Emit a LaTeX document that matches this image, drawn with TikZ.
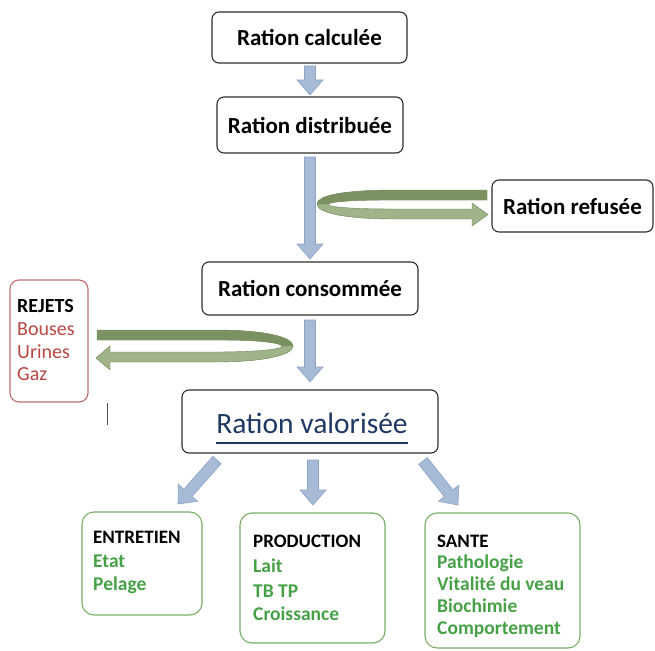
\documentclass[tikz,border=0pt]{standalone}
\usepackage{fontspec}
\setmainfont{Carlito}
\usetikzlibrary{calc}
\definecolor{boxline}{RGB}{45,45,45}
\definecolor{arrowblue}{RGB}{167,187,215}
\definecolor{arrowedge}{RGB}{140,162,198}
\definecolor{olivedark}{RGB}{122,145,98}
\definecolor{olivelight}{RGB}{160,180,138}
\definecolor{oliveedge}{RGB}{110,130,90}
\definecolor{greenline}{RGB}{120,175,100}
\definecolor{greentext}{RGB}{70,160,70}
\definecolor{redline}{RGB}{190,110,110}
\definecolor{redtext}{RGB}{185,70,65}
\definecolor{navyblue}{RGB}{31,56,100}
\newcommand\blockarrow[2]{%
  \path[fill=arrowblue, draw=arrowedge, line width=0.6pt]
    let \p1=(#1), \p2=(#2),
        \n1={atan2(\y2-\y1,\x2-\x1)},
        \n2={veclen(\x2-\x1,\y2-\y1)} in
    [shift={(\p1)}, rotate=\n1]
    (0pt,-5.5pt) -- ({\n2*1pt-15pt},-5.5pt) -- ({\n2*1pt-15pt},-13pt) -- ({\n2*1pt},0pt)
    -- ({\n2*1pt-15pt},13pt) -- ({\n2*1pt-15pt},5.5pt) -- (0pt,5.5pt) -- cycle;}
\begin{document}
\begin{tikzpicture}[x=1pt,y=-1pt,
  mainbox/.style={draw=boxline, line width=1.1pt, rounded corners=7pt, fill=white, inner sep=0pt,
    font=\fontsize{23}{27}\selectfont\bfseries},
  greenbox/.style={draw=greenline, line width=1.1pt, rounded corners=12pt, inner sep=0pt},
  redbox/.style={draw=redline, line width=1.1pt, rounded corners=9pt, inner sep=0pt},
  head/.style={anchor=base west, inner sep=0pt, font=\fontsize{19}{21}\selectfont\bfseries, text=black},
  gitem/.style={anchor=base west, inner sep=0pt, font=\fontsize{19.5}{21}\selectfont\bfseries, text=greentext},
  rhead/.style={anchor=base west, inner sep=0pt, font=\fontsize{20}{22}\selectfont\bfseries, text=black},
  ritem/.style={anchor=base west, inner sep=0pt, font=\fontsize{20}{22}\selectfont, text=redtext}]
\useasboundingbox (0,0) rectangle (655,650);

% main boxes
\node[mainbox, minimum width=195pt, minimum height=51pt] (calc) at (309.5,37.5) {Ration calculée};
\node[mainbox, minimum width=186pt, minimum height=56pt] (dist) at (310,125) {Ration distribuée};
\node[mainbox, minimum width=161pt, minimum height=52pt] (ref) at (572.5,206) {Ration refusée};
\node[mainbox, minimum width=216pt, minimum height=53pt] (cons) at (310,288.5) {Ration consommée};
\node[mainbox, minimum width=256pt, minimum height=63pt] (val) at (310,421.5) {};
\node[anchor=base, inner sep=0pt, font=\fontsize{29.5}{33}\selectfont, text=navyblue] (valt) at (312,433) {Ration valorisée};
\draw[navyblue, line width=1.6pt] ([yshift=-10pt]valt.base west) -- ([yshift=-10pt]valt.base east);

% rejets
\node[redbox, minimum width=78pt, minimum height=122pt] (rej) at (49,341) {};
\node[rhead] (rejt) at (17,312) {REJETS};
\node[ritem] (bou) at (17,335) {Bouses};
\node[ritem] (uri) at (17,358) {Urines};
\node[ritem] (gaz) at (17,380) {Gaz};

% green boxes
\node[greenbox, minimum width=120pt, minimum height=103pt] (ent) at (142,563.5) {};
\node[head] (entt) at (93,543) {ENTRETIEN};
\node[gitem] (etat) at (93,567) {Etat};
\node[gitem] (pel) at (93,590) {Pelage};

\node[greenbox, minimum width=145pt, minimum height=130pt] (prod) at (312.5,578) {};
\node[head] (prodt) at (253,547) {PRODUCTION};
\node[gitem] (lait) at (253,572) {Lait};
\node[gitem] (tbtp) at (253,597) {TB TP};
\node[gitem] (cro) at (253,620) {Croissance};

\node[greenbox, minimum width=155pt, minimum height=135pt] (sant) at (502.5,580.5) {};
\node[head] (santt) at (437,547) {SANTE};
\node[gitem] (path) at (437,568) {Pathologie};
\node[gitem] (vit) at (437,590) {Vitalité du veau};
\node[gitem] (bio) at (437,612) {Biochimie};
\node[gitem] (comp) at (437,634) {Comportement};

% blue block arrows
\coordinate (a1s) at (310,66);  \coordinate (a1e) at (310,95);
\coordinate (a2s) at (310,157); \coordinate (a2e) at (310,259);
\coordinate (a3s) at (310,320); \coordinate (a3e) at (310,382);
\coordinate (a4s) at (217,460); \coordinate (a4e) at (178,504);
\coordinate (a5s) at (313,460); \coordinate (a5e) at (313,505);
\coordinate (a6s) at (423,461); \coordinate (a6e) at (458,505);
\blockarrow{a1s}{a1e}
\blockarrow{a2s}{a2e}
\blockarrow{a3s}{a3e}
\blockarrow{a4s}{a4e}
\blockarrow{a5s}{a5e}
\blockarrow{a6s}{a6e}

% curved arrow to "Ration refusee"
\fill[olivelight, draw=oliveedge, line width=0.4pt]
  (487,190) -- (390,190) .. controls (340,190.5) and (317,196) .. (317,204)
  .. controls (317,213) and (345,219) .. (395,219) -- (472,219) -- (472,226) -- (488,214.5)
  -- (472,203) -- (472,209) -- (395,209) .. controls (352,209) and (328,207) .. (328,204.5)
  .. controls (328,202) and (350,200) .. (390,200) -- (487,200) -- cycle;
\fill[olivedark]
  (487,190) -- (390,190) .. controls (340,190.5) and (317,196) .. (317,204)
  -- (328,204.5) .. controls (328,202) and (350,200) .. (390,200) -- (487,200) -- cycle;

% curved arrow to "REJETS"
\fill[olivelight, draw=oliveedge, line width=0.4pt]
  (97,330) -- (220,330) .. controls (270,330.5) and (293,338) .. (293,346)
  .. controls (293,355) and (265,362) .. (215,362) -- (110,362) -- (110,370) -- (96,358)
  -- (110,346) -- (110,352) -- (215,352) .. controls (258,352) and (282,349) .. (282,346.5)
  .. controls (282,343) and (260,340) .. (220,340) -- (97,340) -- cycle;
\fill[olivedark]
  (97,330) -- (220,330) .. controls (270,330.5) and (293,338) .. (293,346)
  -- (282,346.5) .. controls (282,343) and (260,340) .. (220,340) -- (97,340) -- cycle;

% stray cursor mark
\coordinate (cur1) at (107,403); \coordinate (cur2) at (107,425);
\draw[line width=0.8pt, black!70] (cur1) -- (cur2);
\end{tikzpicture}
\end{document}
